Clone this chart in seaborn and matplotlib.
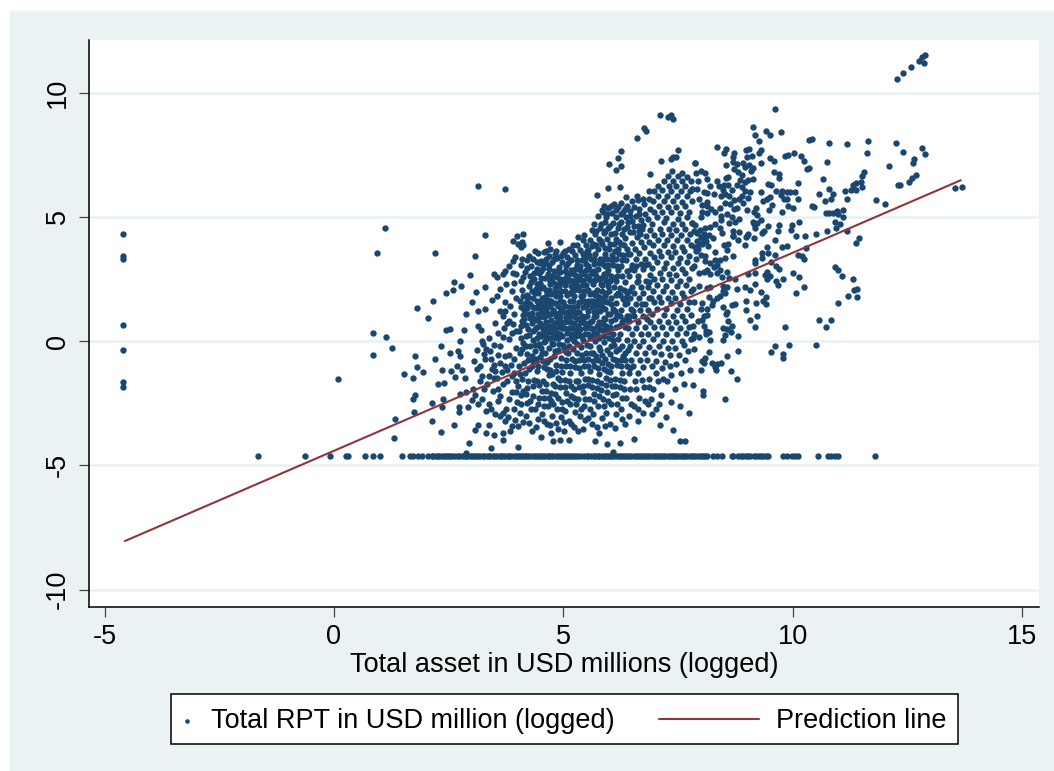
import matplotlib
matplotlib.use("Agg")
import matplotlib.pyplot as plt
from matplotlib.patches import Rectangle
import seaborn as sns
import pandas as pd

NAVY = "#1a476f"
MAROON = "#90353b"
BLUEGRAY = "#eaf2f3"

# values (log total asset, log RPT)
left_strip = [(-4.6,4.29),(-4.6,3.41),(-4.6,3.31),(-4.6,0.64),(-4.6,-0.35),(-4.6,-1.65),(-4.6,-1.84)]

top_cluster = [(12.28,10.53),(12.4,10.78),(12.58,11.04),(12.75,11.28),(12.86,11.18),(12.82,11.41),(12.89,11.51)]

sparse_left = [(0.08,-1.52),(0.84,0.33),(0.84,-0.57),(0.94,3.54),(1.12,4.56),(1.13,0.15),(1.27,-0.27),(1.81,1.31),
    (2.06,0.94),(2.15,1.61),(2.2,3.54),(2.45,1.95),(2.6,2.05),(2.62,2.36),(2.78,2.22),(2.97,2.66),(3.08,3.41),
    (3.13,6.24),(3.29,4.28),(3.74,6.11),(3.29,2.19),(2.89,1.07),(3.1,1.96),(3.02,1.56),(3.15,1.2),(3.29,1.27),
    (3.45,1.65),(2.44,0.44),(2.54,0.48),(2.83,0.43),(3.13,0.6),(3.21,0.44),(2.75,0.0),(2.34,-0.2),(1.76,-0.59),
    (2.21,-0.71),(2.53,-0.47),(2.71,-0.39),(2.74,-0.62),(1.8,-1.06),(1.95,-1.23),(1.53,-1.31),(1.72,-1.47),
    (2.36,-1.17),(2.55,-1.19),(2.68,-0.99),(2.79,-1.17),(2.64,-1.43),(2.86,-1.47),(2.26,-1.74),(2.41,-1.7),
    (1.77,-2.17),(1.72,-2.33),(2.38,-2.32),(2.75,-2.13),(2.89,-2.04),(3.04,-1.93),(2.13,-2.51),(2.35,-2.64),
    (1.74,-2.87),(1.32,-3.14),(1.3,-3.9),(2.14,-3.22),(2.34,-3.66),(2.62,-3.37),(2.73,-2.64),(2.73,-2.84),
    (2.93,-2.64),(3.0,-2.37),(3.15,-2.53),(3.31,-2.82),(3.37,-2.53),(3.08,-3.57),(3.15,-3.38),(3.37,-3.38),
    (3.31,-3.71),(3.5,-3.79),(3.69,-3.69),(3.84,-3.62),(2.95,-4.1),(3.43,-4.32),(3.69,-3.98),(4.01,-4.25),
    (2.89,-4.49),(3.05,-0.82),(3.12,-0.35),(3.18,-1.02),(3.26,-0.12),(3.22,-1.42),(3.3,-0.72),(3.34,-1.75),
    (3.38,0.12),(3.41,-0.4),(3.44,-1.12),(3.47,-2.02),(3.52,0.72),(3.5,-0.95),(3.55,-1.48),(3.58,0.31),(3.61,-0.2),
    (3.63,-2.22),(3.66,-1.25),(3.68,1.02),(3.71,0.52),(3.73,-0.62),(3.76,-2.74),(3.78,-1.62),(3.8,-3.05),(3.81,0.1),
    (3.84,1.42),(3.85,-0.95),(3.88,-2.05),(3.9,0.68),(3.92,-1.28),(3.94,-3.18),(3.96,1.72),(3.97,-0.28),(3.99,-2.45),
    (3.49,2.7),(3.55,2.59),(3.69,2.69),(3.74,2.82),(3.81,3.03),(3.9,3.21),(3.94,3.37),(4.09,3.29),(3.9,2.73),(3.98,2.69),
    (3.99,4.23),(4.13,4.3),(3.9,4.04),(4.09,4.0),(4.02,3.9),(4.13,3.87),(4.08,3.79),(3.62,2.1),(3.75,2.28),(3.88,2.02),
    (3.55,1.82),(3.72,1.55),(3.92,2.35)]

col_4 = [(4.02,-3.42),(4.05,-2.88),(4.08,-2.18),(4.1,-1.52),(4.03,-1.02),(4.06,-0.5),(4.12,-0.08),(4.04,0.4),
    (4.09,0.82),(4.14,1.25),(4.05,1.62),(4.11,2.05),(4.07,2.42),(4.16,2.78),(4.18,-3.02),(4.2,-2.5),(4.22,-1.88),
    (4.17,-1.3),(4.24,-0.75),(4.19,-0.22),(4.26,0.25),(4.18,0.65),(4.23,1.08),(4.27,1.48),(4.2,1.85),(4.25,2.22),
    (4.28,2.6),(4.3,3.02),(4.22,3.25),(4.32,-3.62),(4.3,-2.75),(4.34,-2.2),(4.36,-1.55),(4.31,-1.0),(4.38,-0.42),
    (4.33,0.05),(4.39,0.48),(4.35,0.92),(4.4,1.32),(4.33,1.72),(4.41,2.1),(4.37,2.48),(4.42,2.9),(4.35,3.3),
    (4.44,3.55),(4.44,-3.15),(4.46,-2.55),(4.48,-1.78),(4.43,-1.22),(4.49,-0.65),(4.45,-0.15),(4.47,0.28),(4.5,0.72),
    (4.44,1.1),(4.48,1.52),(4.46,1.95),(4.5,2.35),(4.47,2.72),(4.49,3.12),(4.58,3.6),(4.67,3.95),(4.93,3.97),
    (4.52,-3.85),(4.54,-2.92),(4.57,-2.3),(4.55,-1.6),(4.59,-1.05),(4.53,-0.48),(4.6,0.02),(4.56,0.5),(4.58,0.95),
    (4.53,1.38),(4.61,1.78),(4.56,2.18),(4.6,2.55),(4.55,2.95),(4.62,3.3),(4.64,-3.35),(4.66,-2.62),(4.63,-2.02),
    (4.68,-1.38),(4.65,-0.85),(4.69,-0.3),(4.63,0.2),(4.7,0.62),(4.65,1.05),(4.69,1.42),(4.64,1.88),(4.71,2.28),
    (4.66,2.68),(4.7,3.05),(4.68,3.42),(4.73,-3.72),(4.76,-3.0),(4.74,-2.4),(4.78,-1.75),(4.72,-1.18),(4.79,-0.62),
    (4.75,-0.08),(4.8,0.4),(4.73,0.85),(4.78,1.25),(4.74,1.62),(4.81,2.02),(4.76,2.42),(4.8,2.82),(4.75,3.18),
    (4.82,3.52),(4.78,-4.04),(4.84,-3.28),(4.86,-2.72),(4.83,-2.12),(4.88,-1.5),(4.85,-0.95),(4.89,-0.38),(4.84,0.12),
    (4.9,0.55),(4.85,1.0),(4.89,1.4),(4.84,1.8),(4.91,2.2),(4.86,2.58),(4.9,2.98),(4.87,3.35),(4.93,-3.98),(4.95,-3.05),
    (4.97,-2.45),(4.94,-1.85),(4.98,-1.25),(4.95,-0.7),(4.99,-0.18),(4.93,0.3),(4.98,0.75),(4.94,1.18),(4.99,1.58),
    (4.95,2.0),(4.98,2.42),(4.94,2.78),(4.97,3.18),(4.99,3.55),(4.42,0.12),(4.52,0.22),(4.62,0.78),(4.72,1.42),
    (4.82,0.72),(4.92,1.62),(4.32,0.72),(4.42,1.62),(4.52,2.55),(4.62,1.22),(4.72,2.62),(4.82,1.52),(4.92,2.5),
    (4.38,1.95),(4.48,0.98),(4.58,0.32),(4.68,0.42),(4.78,0.18),(4.88,0.88),(4.98,0.52),(4.28,0.92),(4.58,1.58),
    (4.68,2.05),(4.78,2.62),(4.88,1.92),(4.96,1.32),(4.76,0.62),(4.86,0.32),(4.66,1.65),(4.56,1.18)]

col_5 = [(5.02,-3.62),(5.04,-2.82),(5.06,-2.1),(5.03,-1.55),(5.07,-1.02),(5.05,-0.45),(5.08,0.05),(5.02,0.52),
    (5.06,0.98),(5.03,1.42),(5.09,1.85),(5.04,2.25),(5.08,2.65),(5.05,3.02),(5.09,3.4),(5.13,-3.98),(5.12,-3.2),
    (5.15,-2.55),(5.18,-1.82),(5.14,-1.28),(5.19,-0.72),(5.13,-0.2),(5.18,0.3),(5.14,0.75),(5.19,1.22),(5.15,1.62),
    (5.2,2.02),(5.14,2.45),(5.18,2.85),(5.16,3.25),(5.2,3.62),(5.24,-3.45),(5.26,-2.85),(5.23,-2.28),(5.28,-1.6),
    (5.25,-1.05),(5.29,-0.5),(5.24,0.02),(5.29,0.5),(5.25,0.98),(5.3,1.4),(5.24,1.82),(5.28,2.25),(5.26,2.65),
    (5.3,3.05),(5.25,3.45),(5.3,3.85),(5.33,-2.35),(5.36,-3.02),(5.35,-1.85),(5.38,-1.3),(5.34,-0.78),(5.39,-0.25),
    (5.34,0.28),(5.39,0.75),(5.35,1.18),(5.4,1.62),(5.34,2.05),(5.38,2.45),(5.36,2.85),(5.4,3.25),(5.37,3.65),
    (5.42,4.05),(5.44,-3.55),(5.46,-2.62),(5.43,-2.05),(5.48,-1.52),(5.45,-1.0),(5.49,-0.48),(5.44,0.05),(5.48,0.52),
    (5.45,0.98),(5.5,1.4),(5.44,1.85),(5.49,2.25),(5.46,2.68),(5.5,3.08),(5.45,3.48),(5.5,3.88),(5.46,4.28),
    (5.53,-3.1),(5.56,-2.32),(5.54,-1.78),(5.58,-1.22),(5.55,-0.72),(5.59,-0.22),(5.54,0.28),(5.58,0.75),(5.55,1.22),
    (5.6,1.62),(5.54,2.05),(5.59,2.45),(5.56,2.88),(5.6,3.28),(5.55,3.68),(5.58,4.08),(5.62,4.48),(5.7,-4.04),
    (5.64,-2.95),(5.66,-2.12),(5.63,-1.55),(5.68,-1.02),(5.65,-0.48),(5.69,0.02),(5.64,0.5),(5.68,0.98),(5.65,1.42),
    (5.7,1.85),(5.64,2.28),(5.69,2.68),(5.66,3.08),(5.7,3.5),(5.65,3.9),(5.69,4.3),(5.73,5.88),(5.66,4.72),
    (5.74,-3.45),(5.76,-2.62),(5.73,-1.9),(5.78,-1.32),(5.75,-0.78),(5.79,-0.25),(5.74,0.28),(5.78,0.75),(5.75,1.2),
    (5.8,1.62),(5.74,2.05),(5.79,2.48),(5.76,2.88),(5.8,3.3),(5.75,3.72),(5.78,4.12),(5.8,4.55),(5.76,5.02),
    (5.84,-3.1),(5.86,-2.35),(5.83,-1.68),(5.88,-1.12),(5.85,-0.58),(5.89,-0.05),(5.84,0.45),(5.88,0.92),(5.85,1.38),
    (5.9,1.8),(5.84,2.25),(5.89,2.68),(5.86,3.08),(5.9,3.52),(5.85,3.92),(5.88,4.35),(5.9,4.78),(5.86,5.18),
    (5.88,5.45),(5.95,-4.14),(5.94,-2.88),(5.96,-2.05),(5.93,-1.48),(5.98,-0.92),(5.95,-0.38),(5.99,0.12),(5.94,0.62),
    (5.98,1.1),(5.95,1.55),(5.99,2.0),(5.94,2.42),(5.98,2.85),(5.96,3.28),(5.99,3.7),(5.95,4.12),(5.98,4.55),
    (5.94,4.98),(5.98,5.35),(5.98,6.16),(5.99,7.14),(5.12,0.52),(5.22,1.62),(5.32,0.62),(5.42,2.42),(5.52,1.02),
    (5.62,0.22),(5.72,1.42),(5.82,2.52),(5.92,0.88),(5.08,2.42),(5.18,1.02),(5.28,0.22),(5.38,1.82),(5.48,0.72),
    (5.58,1.88),(5.68,2.82),(5.78,0.48),(5.88,1.62),(5.98,2.22),(5.16,2.22),(5.26,1.18),(5.36,0.48),(5.46,2.02),
    (5.56,2.62),(5.66,1.18),(5.76,1.82),(5.86,0.68),(5.96,2.72),(5.1,1.18),(5.2,0.52),(5.3,2.45),(5.4,1.02),(5.5,2.85),
    (5.6,0.52),(5.7,2.45),(5.8,1.22),(5.9,3.02),(5.25,2.88),(5.45,1.62),(5.65,1.95),(5.85,2.02),(5.35,2.62),(5.55,3.0)]

col_6 = [(6.02,-3.35),(6.04,-2.52),(6.06,-1.82),(6.03,-1.25),(6.08,-0.72),(6.05,-0.2),(6.09,0.3),(6.04,0.8),(6.08,1.28),
    (6.05,1.72),(6.1,2.18),(6.04,2.62),(6.09,3.05),(6.06,3.48),(6.1,3.9),(6.05,4.32),(6.09,4.75),(6.06,5.15),(6.1,5.5),
    (6.09,-4.45),(6.14,-2.95),(6.16,-2.15),(6.13,-1.52),(6.18,-0.98),(6.15,-0.42),(6.19,0.08),(6.14,0.58),(6.18,1.05),
    (6.15,1.52),(6.2,1.95),(6.14,2.4),(6.19,2.85),(6.16,3.28),(6.2,3.72),(6.15,4.12),(6.19,4.55),(6.16,4.98),(6.2,5.4),
    (6.15,6.87),(6.19,7.37),(6.23,6.19),(6.24,-4.12),(6.25,-2.72),(6.23,-1.85),(6.28,-1.28),(6.25,-0.75),(6.29,-0.22),
    (6.24,0.3),(6.28,0.78),(6.25,1.25),(6.3,1.7),(6.24,2.15),(6.29,2.6),(6.26,3.02),(6.3,3.48),(6.25,3.9),(6.29,4.32),
    (6.26,4.78),(6.3,5.2),(6.25,5.55),(6.27,7.66),(6.27,7.06),(6.34,-3.35),(6.36,-2.3),(6.33,-1.6),(6.38,-1.02),
    (6.35,-0.48),(6.39,0.05),(6.34,0.55),(6.38,1.02),(6.35,1.48),(6.4,1.92),(6.34,2.38),(6.39,2.82),(6.36,3.25),(6.4,3.7),
    (6.35,4.15),(6.39,4.58),(6.36,5.0),(6.4,5.42),(6.36,5.78),(6.44,-3.02),(6.46,-1.95),(6.43,-1.3),(6.48,-0.78),
    (6.45,-0.22),(6.49,0.28),(6.44,0.8),(6.48,1.28),(6.45,1.72),(6.5,2.18),(6.44,2.62),(6.49,3.05),(6.46,3.5),(6.5,3.95),
    (6.45,4.38),(6.49,4.82),(6.46,5.22),(6.5,5.62),(6.55,-3.96),(6.54,-2.62),(6.56,-1.62),(6.53,-1.0),(6.58,-0.5),
    (6.55,0.02),(6.59,0.52),(6.54,1.02),(6.58,1.48),(6.55,1.92),(6.6,2.38),(6.54,2.85),(6.59,3.28),(6.56,3.72),(6.6,4.18),
    (6.55,4.62),(6.59,5.05),(6.6,5.85),(6.62,5.69),(6.61,8.18),(6.76,8.59),(6.8,8.47),(6.64,-3.2),(6.66,-2.3),(6.63,-1.3),
    (6.68,-0.78),(6.65,-0.22),(6.69,0.28),(6.64,0.78),(6.68,1.25),(6.65,1.72),(6.7,2.18),(6.64,2.62),(6.69,3.1),(6.66,3.55),
    (6.7,4.0),(6.65,4.42),(6.69,4.88),(6.66,5.3),(6.75,5.7),(6.74,-2.88),(6.76,-1.85),(6.73,-1.05),(6.78,-0.5),(6.75,0.02),
    (6.79,0.55),(6.74,1.02),(6.78,1.48),(6.75,1.95),(6.8,2.42),(6.74,2.88),(6.79,3.32),(6.76,3.78),(6.8,4.22),(6.75,4.68),
    (6.79,5.1),(6.76,5.5),(6.87,6.04),(6.89,6.74),(6.84,-2.55),(6.86,-1.52),(6.83,-0.78),(6.88,-0.25),(6.85,0.28),(6.89,0.78),
    (6.84,1.25),(6.88,1.72),(6.85,2.18),(6.9,2.65),(6.84,3.08),(6.89,3.55),(6.86,4.0),(6.9,4.45),(6.85,4.9),(6.89,5.32),
    (6.86,5.72),(6.94,-2.95),(6.96,-1.95),(6.93,-1.02),(6.98,-0.45),(6.95,0.08),(6.99,0.58),(6.94,1.08),(6.98,1.55),
    (6.95,2.02),(6.99,2.48),(6.94,2.92),(6.98,3.38),(6.95,3.85),(6.99,4.28),(6.94,4.72),(6.98,5.18),(6.95,5.62),(6.99,6.02),
    (6.12,1.22),(6.22,0.62),(6.32,2.05),(6.42,0.52),(6.52,1.22),(6.62,2.42),(6.72,1.48),(6.82,0.88),(6.92,1.72),
    (6.18,2.62),(6.28,3.25),(6.38,1.52),(6.48,2.88),(6.58,3.02),(6.68,4.32),(6.78,3.05),(6.88,2.38),(6.08,2.55),(6.22,3.5)]

col_7 = [(7.02,-2.75),(7.06,-1.62),(7.03,-0.8),(7.08,-0.22),(7.05,0.3),(7.09,0.82),(7.04,1.3),(7.08,1.78),(7.05,2.25),
    (7.1,2.72),(7.04,3.18),(7.09,3.62),(7.06,4.08),(7.1,4.52),(7.05,4.98),(7.09,5.42),(7.06,5.82),(7.07,6.24),(7.1,9.1),
    (7.11,-3.37),(7.14,7.26),(7.28,9.0),(7.35,9.1),(7.4,8.92),(7.5,7.69),(7.34,7.31),(7.4,7.41),(7.46,7.41),(7.87,7.15),
    (7.14,-2.18),(7.16,-1.1),(7.13,-0.52),(7.18,0.02),(7.15,0.55),(7.19,1.05),(7.14,1.55),(7.18,2.02),(7.15,2.48),(7.2,2.95),
    (7.14,3.42),(7.19,3.88),(7.16,4.32),(7.2,4.78),(7.15,5.2),(7.19,5.65),(7.16,6.08),(7.2,6.45),(7.24,-3.04),(7.26,-1.62),
    (7.23,-0.85),(7.28,-0.28),(7.25,0.28),(7.29,0.78),(7.24,1.28),(7.28,1.75),(7.25,2.22),(7.3,2.68),(7.24,3.15),(7.29,3.6),
    (7.26,4.05),(7.3,4.5),(7.25,4.95),(7.29,5.38),(7.26,5.82),(7.3,6.22),(7.28,6.62),(7.39,-3.58),(7.34,-2.45),(7.36,-1.35),
    (7.33,-0.55),(7.38,0.02),(7.35,0.52),(7.39,1.02),(7.34,1.52),(7.38,1.98),(7.35,2.45),(7.4,2.92),(7.34,3.38),(7.39,3.82),
    (7.36,4.28),(7.4,4.72),(7.35,5.18),(7.39,5.62),(7.36,6.02),(7.4,6.45),(7.38,6.85),(7.44,-1.95),(7.46,-0.92),(7.43,-0.28),
    (7.48,0.28),(7.45,0.78),(7.49,1.25),(7.44,1.72),(7.48,2.2),(7.45,2.65),(7.5,3.12),(7.44,3.58),(7.49,4.05),(7.46,4.48),
    (7.5,4.92),(7.45,5.38),(7.49,5.82),(7.46,6.22),(7.5,6.62),(7.55,-4.01),(7.66,-4.04),(7.54,-2.62),(7.56,-1.28),(7.53,-0.55),
    (7.58,0.02),(7.55,0.52),(7.59,1.02),(7.54,1.48),(7.58,1.95),(7.55,2.42),(7.6,2.88),(7.54,3.35),(7.59,3.8),(7.56,4.25),
    (7.6,4.7),(7.55,5.15),(7.59,5.6),(7.56,6.02),(7.6,6.42),(7.58,6.78),(7.64,-1.75),(7.66,-0.78),(7.63,-0.18),(7.68,0.32),
    (7.65,0.82),(7.69,1.3),(7.64,1.78),(7.68,2.25),(7.65,2.72),(7.7,3.18),(7.64,3.62),(7.69,4.08),(7.66,4.52),(7.7,4.98),
    (7.65,5.42),(7.69,5.85),(7.66,6.25),(7.7,6.6),(7.74,-2.9),(7.76,-1.15),(7.73,-0.4),(7.78,0.08),(7.75,0.58),(7.79,1.05),
    (7.74,1.55),(7.78,2.02),(7.75,2.48),(7.8,2.95),(7.74,3.42),(7.79,3.88),(7.76,4.32),(7.8,4.73),(7.75,5.2),(7.8,5.65),
    (7.76,6.05),(7.8,6.12),(7.78,6.45),(7.82,0.11),(7.83,-1.76),(7.84,0.62),(7.88,3.78),(7.92,4.02),(7.96,3.92),(8.0,4.18),
    (7.9,3.62),(7.94,3.72),(8.02,3.92),(8.05,4.12),(8.08,4.32),(7.85,4.42),(7.98,4.45),(8.12,4.02),(8.16,3.82),(8.18,4.28)]

upper_right = [(7.87,7.16),(8.0,6.84),(8.09,6.75),(7.89,6.75),(8.14,6.5),(7.93,6.44),(8.4,6.25),(8.51,6.28),(8.6,6.28),
    (8.56,7.07),(8.71,7.2),(8.8,7.12),(8.72,6.93),(8.93,7.15),(8.96,7.0),(9.06,7.08),(9.13,6.97),(9.09,6.85),(8.82,6.79),
    (8.89,6.68),(8.6,6.61),(8.55,6.57),(8.86,6.48),(8.97,6.41),(9.04,6.48),(9.13,6.5),(8.78,6.26),(8.89,6.21),(8.69,6.06),
    (8.49,6.06),(8.14,5.94),(8.06,6.0),(7.91,6.1),(7.8,6.12),(8.43,5.82),(8.89,5.85),(8.84,5.7),(8.93,5.54),(8.73,5.67),
    (8.53,5.54),(8.64,5.51),(8.14,5.6),(8.02,5.49),(7.95,5.7),(8.14,5.44),(8.8,5.36),(8.42,5.34),(8.31,5.19),(8.73,5.3),
    (9.0,5.27),(8.02,5.2),(8.14,5.16),(8.0,5.0),(8.43,5.04),(8.58,5.11),(8.67,5.0),(8.84,4.9),(8.75,4.8),(8.62,4.73),
    (8.44,4.87),(8.2,4.6),(8.09,4.53),(7.87,4.67),(7.8,4.73),(8.42,4.53),(8.46,4.36),(8.71,4.44),(8.84,4.4),(8.7,4.24),
    (7.91,4.33),(8.09,4.2),(8.27,4.13),(9.61,9.32),(9.13,8.61),(9.18,8.27),(9.42,8.46),(9.5,8.3),(9.74,8.42),(9.28,8.03),
    (8.35,7.81),(8.55,7.71),(8.51,7.58),(8.99,7.68),(9.06,7.74),(9.32,7.7),(9.26,7.55),(9.12,7.46),(9.0,7.4),(8.73,7.55),
    (8.71,7.39),(10.37,8.07),(10.43,8.14),(10.8,7.97),(11.18,7.93),(11.65,8.03),(11.63,7.55),(12.25,7.97),(12.4,7.6),
    (12.83,7.76),(12.89,7.52),(12.65,7.31),(12.62,7.18),(12.1,7.03),(10.76,7.19),(10.19,7.46),(10.24,7.26),(10.03,7.55),
    (9.91,7.48),(9.84,7.46),(9.5,7.38),(9.6,7.23),(10.31,6.93),(10.37,6.97),(10.66,6.53),(9.6,6.8),(9.71,6.73),(9.71,6.55),
    (9.31,7.16),(9.47,6.32),(9.53,6.28),(10.13,6.34),(12.69,6.67),(12.6,6.56),(12.53,6.41),(12.35,6.28),(12.29,6.26),
    (11.55,6.81),(11.52,6.64),(11.49,6.41),(11.52,6.21),(11.39,6.34),(11.33,6.28),(11.39,6.08),(11.28,6.09),(11.15,6.03),
    (10.8,6.12),(10.57,5.91),(10.88,5.91),(10.85,5.73),(10.7,5.65),(11.19,5.73),(11.82,5.67),(12.01,5.5),(13.55,6.17),
    (13.69,6.2),(10.42,5.42),(10.46,5.41),(10.73,5.14),(10.8,5.14),(10.88,5.15),(10.96,5.23),(11.1,5.28),(11.0,5.11),
    (11.11,5.0),(10.92,4.79),(11.04,4.69),(10.94,4.53),(11.18,4.44),(10.76,4.41),(11.45,4.16),(10.52,4.29),(10.28,4.21),
    (10.07,4.24),(10.15,4.79),(9.99,4.65),(9.96,4.47),(9.71,4.67),(9.69,4.43),(9.46,4.64),(9.38,4.44),(9.33,4.33),(9.77,5.2),
    (9.49,5.28),(9.56,5.49),(9.82,5.7),(9.89,5.7),(9.91,5.45),(10.0,5.34),(10.11,5.7),(10.05,6.0),(9.95,5.99),(9.89,6.0),
    (9.77,6.05),(9.63,6.05),(9.75,5.87),(9.52,5.81),(9.44,5.7),(9.35,5.62),(9.31,5.98),(9.2,5.36),(9.15,5.2),(9.23,5.06),
    (9.31,4.88),(9.23,4.75),(9.13,4.79),(9.15,4.69),(9.18,4.53),(9.02,4.3),(8.99,4.2),(8.2,6.25),(8.28,5.9),(8.35,6.42),
    (8.22,5.32),(8.3,4.72),(8.52,5.92),(8.62,5.82),(8.96,6.02),(9.02,5.75),(9.08,5.98)]

lower_right = [(11.39,3.93),(10.29,3.73),(9.89,3.82),(9.77,3.77),(9.62,4.07),(10.13,3.45),(10.2,3.43),(10.25,3.3),(9.44,3.8),
    (9.34,3.55),(9.47,3.53),(9.34,3.33),(9.62,3.47),(9.18,3.26),(9.18,3.15),(9.53,3.19),(9.64,3.03),(9.71,2.88),(10.0,2.72),
    (10.15,2.58),(9.79,2.5),(10.24,2.19),(10.08,1.92),(9.63,2.4),(9.68,2.24),(9.45,2.76),(9.51,2.63),(9.4,2.66),(9.45,2.48),
    (9.19,2.74),(9.02,2.71),(9.19,2.3),(8.96,2.16),(9.07,2.04),(9.32,1.99),(9.42,1.76),(9.36,1.62),(9.42,1.49),(9.2,1.54),
    (8.98,1.6),(8.98,1.23),(9.07,0.86),(9.22,1.01),(9.18,0.55),(9.84,0.57),(10.57,0.85),(10.83,0.85),(10.73,0.55),(9.61,-0.2),
    (9.54,-0.44),(9.93,-0.15),(10.51,-0.17),(9.79,-0.53),(9.8,-0.7),(10.93,2.99),(11.0,2.87),(11.09,2.63),(11.31,2.5),
    (11.34,2.07),(11.4,2.1),(11.2,1.81),(11.41,1.76),(11.0,1.54),(7.86,3.03),(7.96,2.75),(8.06,2.78),(8.13,2.86),(8.2,2.7),
    (8.36,2.75),(8.42,2.86),(8.57,2.76),(8.47,2.59),(8.62,2.55),(8.75,2.51),(7.97,2.2),(8.2,2.17),(7.82,2.09),(8.13,2.12),
    (8.49,2.2),(8.58,2.19),(8.8,2.09),(8.48,2.03),(8.53,1.92),(8.42,1.83),(8.35,1.72),(8.17,1.79),(8.27,1.62),(8.24,1.45),
    (7.86,1.57),(8.03,1.52),(8.67,1.46),(8.75,1.49),(8.49,1.36),(8.0,1.28),(8.13,1.3),(8.57,1.18),(8.55,1.09),(8.14,1.06),
    (8.06,1.01),(7.93,0.82),(8.02,0.85),(8.6,0.79),(8.49,0.54),(8.69,0.62),(8.57,0.5),(8.06,0.6),(8.18,0.36),(8.11,0.42),
    (8.65,0.38),(8.52,0.26),(8.82,0.19),(8.11,0.27),(7.86,0.28),(7.97,0.18),(8.2,0.04),(8.49,0.05),(7.86,-0.31),(8.18,-0.44),
    (8.82,-0.41),(8.58,-0.6),(8.09,-0.68),(8.03,-0.79),(8.07,-0.87),(8.24,-0.9),(8.44,-0.87),(8.35,-0.94),(8.31,-1.03),
    (8.33,-1.15),(8.01,-1.17),(8.65,-1.2),(8.78,-1.51),(8.04,-2.0),(8.04,-2.18),(8.52,-2.35),(8.3,3.6),(8.42,3.26),(8.2,3.13),
    (8.53,3.33),(8.7,3.42),(8.09,3.22),(8.09,3.43),(8.57,3.66),(8.6,3.9),(8.51,3.87),(8.96,3.86),(8.82,4.07),(9.0,4.24),
    (9.15,4.13),(8.7,4.24),(8.32,3.26),(8.36,3.05),(8.28,2.98),(7.9,3.3),(8.0,3.45)]

# extra hand-read points for the dense middle of the cloud
core_fill = [(4.07,3.05),(4.13,2.58),(4.21,2.95),(4.29,2.38),(4.36,2.75),(4.43,3.18),(4.52,2.82),(4.61,3.15),(4.7,2.88),(4.79,3.28),
    (4.87,2.8),(4.95,3.42),(5.03,2.82),(5.11,3.15),(5.21,2.72),(5.29,3.25),(5.37,3.02),(5.47,3.28),(5.57,3.45),(5.67,3.28),
    (5.77,3.12),(5.87,3.3),(5.97,3.05),(6.07,3.25),(6.17,3.02),(6.02,2.4),(5.92,2.55),(5.82,2.28),(5.72,2.62),(5.62,2.72),
    (5.52,2.52),(5.42,2.72),(5.32,2.22),(5.22,2.42),(5.12,2.68),(5.02,2.5),(4.92,2.32),(4.82,2.12),(4.72,2.42),(4.62,2.05),
    (4.52,2.12),(4.42,2.28),(4.32,2.02),(4.22,1.62),(4.12,1.82),(4.08,1.35),(4.16,1.48),(4.24,1.78),(4.34,1.38),(4.44,1.42),
    (4.54,1.72),(4.64,1.42),(4.74,1.88),(4.84,2.28),(4.94,1.82),(5.04,2.02),(5.14,1.92),(5.24,2.05),(5.34,1.58),(5.44,2.25),
    (5.54,1.62),(5.64,1.62),(5.74,1.62),(5.84,1.72),(5.94,1.92),(6.04,1.48),(6.14,1.85),(6.24,1.85),(6.34,1.72),(6.44,2.02),
    (6.02,1.08),(5.92,1.28),(5.82,1.45),(5.72,1.02),(5.62,1.38),(5.52,1.48),(5.42,1.35),(5.32,1.18),(5.22,1.38),(5.12,1.35),
    (5.02,1.18),(4.92,0.98),(4.82,1.12),(4.72,1.08),(4.62,1.52),(4.52,1.28),(4.42,0.85),(4.32,1.12),(4.22,1.32),(4.12,1.05),
    (4.07,0.62),(4.15,0.88),(4.24,0.48),(4.33,0.42),(4.43,0.58),(4.53,0.62),(4.63,0.52),(4.73,0.38),(4.83,0.48),(4.93,0.72),
    (5.03,0.78),(5.13,0.98),(5.23,0.72),(5.33,0.88),(5.43,0.75),(5.53,0.55),(5.63,0.82),(5.73,0.62),(5.83,0.72),(5.93,0.48),
    (6.03,0.58),(6.13,0.88),(6.23,1.02),(6.33,0.85),(6.43,1.02),(6.08,0.05),(5.98,0.38),(5.88,0.22),(5.78,0.12),(5.68,0.32),
    (5.58,0.12),(5.48,0.28),(5.38,0.22),(5.28,0.42),(5.18,0.12),(5.08,0.32),(4.98,0.22),(4.88,0.12),(4.78,-0.12),(4.68,0.12),
    (4.58,-0.02),(4.48,-0.12),(4.38,-0.18),(4.28,-0.22),(4.18,0.22),(4.08,0.12),(4.11,-0.32),(4.21,-0.52),(4.31,-0.62),(4.41,-0.72),
    (4.51,-0.28),(4.61,-0.48),(4.71,-0.72),(4.81,-0.42),(4.91,-0.12),(5.01,-0.28),(5.11,-0.48),(5.21,-0.32),(5.31,-0.12),(5.41,-0.58),
    (5.51,-0.18),(5.61,-0.48),(5.71,-0.62),(5.81,-0.38),(5.91,-0.72),(6.01,-0.52),(6.11,-0.15),(6.21,-0.32),(6.31,-0.62),(6.41,-0.38),
    (4.06,-1.32),(4.15,-0.88),(4.25,-1.12),(4.35,-0.82),(4.45,-1.02),(4.55,-0.82),(4.65,-1.12),(4.75,-1.32),(4.85,-1.22),(4.95,-1.02),
    (5.05,-0.78),(5.15,-1.02),(5.25,-0.82),(5.35,-1.08),(5.45,-0.78),(5.55,-1.02),(5.65,-0.82),(5.75,-1.08),(5.85,-0.88),(5.95,-1.22),
    (6.05,-1.02),(6.15,-0.78),(6.25,-1.02),(6.35,-0.78),(6.45,-1.08),(4.02,-1.82),(4.13,-2.02),(4.23,-1.62),(4.33,-1.82),(4.43,-1.62),
    (4.53,-2.02),(4.63,-1.72),(4.73,-2.08),(4.83,-1.82),(4.93,-1.55),(5.03,-1.85),(5.13,-1.62),(5.23,-1.92),(5.33,-1.62),(5.43,-1.82),
    (5.53,-1.52),(5.63,-1.85),(5.73,-1.62),(5.83,-1.98),(5.93,-1.78),(6.03,-1.58),(6.13,-1.82),(6.23,-1.58),(6.33,-1.92),(3.62,1.22),
    (3.72,1.2),(3.82,0.82),(3.92,1.08),(3.98,0.42),(3.88,0.32),(3.78,0.72),(3.68,0.18),(3.58,-0.55),(3.48,-0.18),(3.42,-0.72),
    (3.52,-1.22),(3.62,-0.9),(3.72,-1.02),(3.82,-0.55),(3.92,-0.72),(3.98,-1.6),(3.88,-1.42),(3.78,-1.18),(3.68,-1.72),(3.58,-1.92),
    (3.48,-1.5),(3.38,-1.42),(3.28,-1.92),(3.18,-1.62),(3.12,-1.12),(3.08,-2.18),(3.22,-2.32),(3.42,-2.75),(3.58,-2.42),(3.68,-2.88),
    (3.82,-2.32),(3.92,-2.72),(3.98,-2.05),(3.62,-3.02),(3.52,-2.92),(3.72,-3.22),(3.88,-3.42),(3.32,-0.32),(3.22,0.02),(3.28,-0.52),
    (4.08,-2.55),(4.18,-2.12),(4.28,-2.42),(4.38,-2.72),(4.48,-2.28),(4.58,-2.62),(4.68,-2.28),(4.78,-2.55),(4.88,-2.28),(4.98,-2.75),
    (5.08,-2.42),(5.18,-2.22),(5.28,-2.55),(5.38,-2.72),(5.48,-2.32),(5.58,-2.72),(5.68,-2.42),(5.78,-2.22),(5.88,-2.62),(5.98,-2.42),
    (6.08,-2.18),(6.18,-2.52),(6.28,-2.28),(4.12,-3.25),(4.26,-3.28),(4.4,-3.48),(4.58,-3.22),(4.72,-3.38),(4.88,-3.55),(5.02,-3.25),
    (5.18,-3.32),(5.32,-3.62),(5.48,-3.18),(5.62,-3.35),(5.78,-3.72),(5.92,-3.42),(6.12,-3.52),(6.28,-3.12),(6.48,-2.52),(6.62,-2.72),
    (6.78,-2.42),(6.92,-2.32),(7.08,-2.52),(6.58,-1.95),(6.72,-1.55),(6.88,-1.85),(7.02,-1.28),(7.18,-1.52),(7.32,-1.02),(4.25,3.42),
    (4.38,3.62),(4.52,3.22),(4.62,3.62),(4.72,3.72),(4.85,3.62),(5.03,3.62),(5.12,3.72),(5.22,3.88),(5.32,4.18),(5.42,3.52),
    (5.52,3.62),(5.62,3.82),(5.72,3.85),(5.82,4.02),(5.92,3.75),(6.02,3.92),(6.12,3.62),(6.22,3.98),(6.32,3.88),(6.42,3.52),
    (5.72,4.42),(5.82,4.72),(5.92,4.42),(6.02,4.62),(6.12,4.35),(6.22,4.72),(6.32,4.52),(6.42,4.78),(6.52,4.38),(6.62,4.62),
    (5.85,5.28),(5.95,5.12),(6.05,5.42),(6.15,5.28),(6.25,5.12),(6.35,5.32),(6.45,5.02),(6.55,5.38),(6.65,5.12),(6.72,4.52)]

floor_x = [-1.66,-0.64,-0.09,0.26,0.31,0.68,0.86,1.0,1.48,1.66,1.72,1.84,1.91,2.04,2.13,2.17,2.22,2.27,2.3,2.36,2.4,2.44,2.49,
    2.53,2.57,2.64,2.7,2.73,2.79,2.83,2.88,2.91,2.97,3.01,3.06,3.1,3.13,3.19,3.24,3.27,3.33,3.37,3.41,3.46,3.52,3.55,3.61,
    3.65,3.68,3.74,3.79,3.82,3.87,3.93,3.96,4.02,4.05,4.11,4.15,4.19,4.24,4.28,4.33,4.38,4.42,4.47,4.51,4.55,4.6,4.66,4.69,
    4.74,4.78,4.84,4.88,4.92,4.97,5.01,5.05,5.11,5.14,5.2,5.24,5.28,5.33,5.38,5.46,5.51,5.55,5.6,5.66,5.7,5.75,5.79,5.85,
    5.89,5.93,5.98,6.03,6.07,6.11,6.17,6.21,6.26,6.3,6.35,6.39,6.44,6.48,6.54,6.58,6.62,6.67,6.71,6.77,6.81,6.85,6.9,6.95,
    7.0,7.04,7.09,7.14,7.18,7.23,7.28,7.33,7.37,7.42,7.47,7.51,7.56,7.62,7.66,7.7,7.77,7.81,7.85,7.9,7.95,8.0,8.05,8.1,8.13,
    8.26,8.35,8.46,8.67,8.71,8.82,8.87,8.93,8.98,9.03,9.08,9.15,9.2,9.27,9.32,9.36,9.42,9.47,9.8,9.87,9.98,10.05,10.13,10.56,
    10.78,10.85,10.93,11.0,11.8]
floor_y = -4.63

pred_x = [-4.56, 13.67]
pred_y = [-8.05, 6.47]

xticks = [-5, 0, 5, 10, 15]
yticks = [-10, -5, 0, 5, 10]

points = pd.DataFrame(left_strip + top_cluster + sparse_left + col_4 + col_5 + col_6 + col_7 + upper_right + lower_right
                      + core_fill + [(x, floor_y) for x in floor_x], columns=["asset", "rpt"])
line = pd.DataFrame({"asset": pred_x, "rpt": pred_y})

sns.set_theme(style="white")
plt.rcParams['font.family'] = ['Liberation Sans', 'DejaVu Sans']
plt.rcParams['axes.unicode_minus'] = False

W, H = 1054, 771
FS = 19.5
fig = plt.figure(figsize=(W/100, H/100), dpi=100, facecolor="white")
fig.patches.append(Rectangle((10/W, 0), (W-10)/W, (H-11)/H, transform=fig.transFigure, color=BLUEGRAY, zorder=-5))
ax = fig.add_axes([88.5/W, (H-606.5)/H, (1039-88.5)/W, (606.5-40)/H])

sns.scatterplot(data=points, x="asset", y="rpt", color=NAVY, s=21, linewidth=0, ax=ax, zorder=3,
                label="Total RPT in USD million (logged)")
sns.lineplot(data=line, x="asset", y="rpt", color=MAROON, lw=1.5, ax=ax, zorder=4, label="Prediction line")

ax.set_xlim(-5.354, 15.376)
ax.set_ylim(-10.684, 12.113)
ax.set_xticks(xticks)
ax.set_yticks(yticks)
ax.yaxis.grid(True, color=BLUEGRAY, lw=2)
ax.set_axisbelow(True)
sns.despine(ax=ax)
for s in ["left", "bottom"]:
    ax.spines[s].set_color("black")
    ax.spines[s].set_linewidth(1.1)
ax.tick_params(axis="both", length=7.5, width=0.9, color="#444444", labelsize=FS, labelcolor="black", pad=5, left=True, bottom=True)
plt.setp(ax.get_yticklabels(), rotation=90, va="center")
ax.set_xlabel("Total asset in USD millions (logged)", fontsize=FS, color="black", va="center")
ax.xaxis.set_label_coords(564/W, (H-665)/H, transform=fig.transFigure)
ax.set_ylabel("")

# legend frame, then one legend per entry so the marker sits close to its text
handles, labels = ax.get_legend_handles_labels()
ax.get_legend().remove()
fig.patches.append(Rectangle((170.5/W, (H-744)/H), 787/W, 50/H, transform=fig.transFigure,
                             facecolor="white", edgecolor="black", lw=1.1, zorder=-1))
leg1 = ax.legend(handles[:1], labels[:1], loc="center left", bbox_to_anchor=(179/W, (H-721.5)/H), bbox_transform=fig.transFigure,
                 frameon=False, fontsize=FS, handlelength=0.6, handletextpad=0.58, borderpad=0, borderaxespad=0,
                 markerscale=0.72, labelcolor="black")
ax.add_artist(leg1)
ax.legend(handles[1:], labels[1:], loc="center left", bbox_to_anchor=(659/W, (H-721.5)/H), bbox_transform=fig.transFigure,
          frameon=False, fontsize=FS, handlelength=3.69, handletextpad=0.62, borderpad=0, borderaxespad=0, labelcolor="black")

fig.savefig("out.png", dpi=100)
